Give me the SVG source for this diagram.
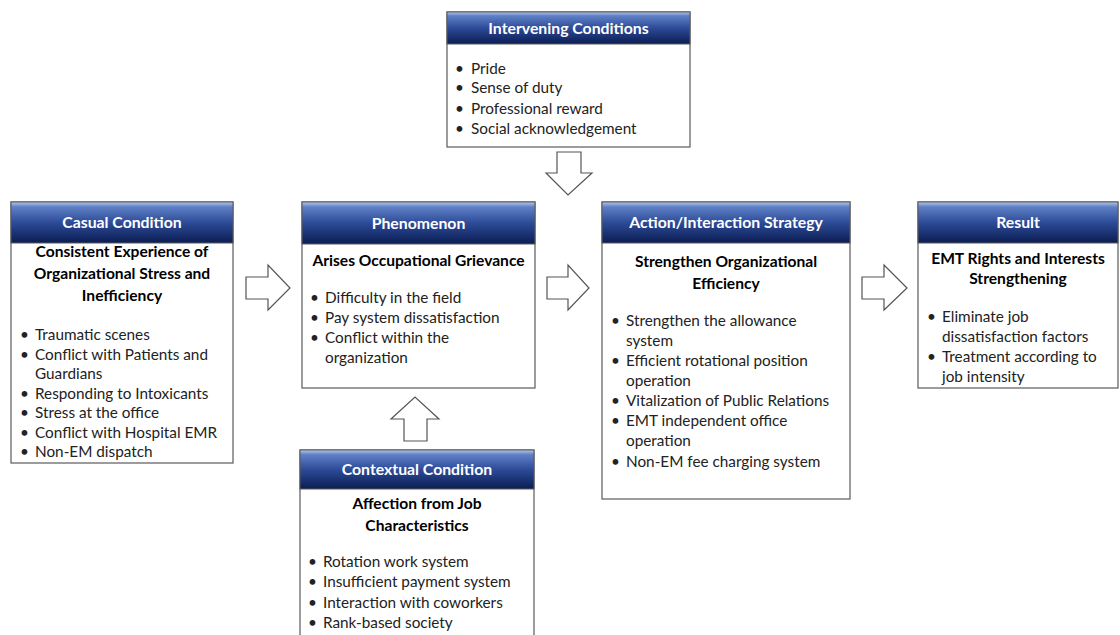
<svg xmlns="http://www.w3.org/2000/svg" width="1120" height="635" viewBox="0 0 1120 635">
<defs>
<linearGradient id="hdr" x1="0" y1="0" x2="0" y2="1">
<stop offset="0" stop-color="#b4c8ec"/>
<stop offset="0.12" stop-color="#5f80c6"/>
<stop offset="0.5" stop-color="#2d4b98"/>
<stop offset="1" stop-color="#0b1d52"/>
</linearGradient>
<style>
.box{fill:#ffffff;stroke:#5a5a5a;stroke-width:1.2}
.hdr{fill:url(#hdr);stroke:#5a5a5a;stroke-width:1}
.ht{font-family:Lato,"Liberation Sans",sans-serif;font-weight:bold;font-size:15.8px;fill:#ffffff;text-anchor:middle}
.tt{font-family:Lato,"Liberation Sans",sans-serif;font-weight:bold;font-size:15.6px;fill:#000000;text-anchor:middle}
.bt{font-family:Lato,"Liberation Sans",sans-serif;font-size:15.3px;fill:#222222}
.arr{fill:#ffffff;stroke:#555555;stroke-width:1.2;stroke-linejoin:miter}
</style>
</defs>
<rect width="1120" height="635" fill="#ffffff"/>

<g id="intervening">
<rect class="box" x="447" y="12" width="243" height="135"/>
<rect class="hdr" x="447" y="12" width="243" height="32"/>
<text class="ht" x="568.5" y="33.5">Intervening Conditions</text>
<text class="bt" x="455" y="74">•<tspan x="471">Pride</tspan></text>
<text class="bt" x="455" y="93">•<tspan x="471">Sense of duty</tspan></text>
<text class="bt" x="455" y="114">•<tspan x="471">Professional reward</tspan></text>
<text class="bt" x="455" y="134">•<tspan x="471">Social acknowledgement</tspan></text>
</g>

<g id="casual">
<rect class="box" x="11" y="202" width="222" height="261"/>
<rect class="hdr" x="11" y="202" width="222" height="41"/>
<text class="ht" x="122" y="228">Casual Condition</text>
<text class="tt" x="122" y="257">Consistent Experience of</text>
<text class="tt" x="122" y="279">Organizational Stress and</text>
<text class="tt" x="122" y="301">Inefficiency</text>
<text class="bt" x="20" y="340">•<tspan x="35">Traumatic scenes</tspan></text>
<text class="bt" x="20" y="360">•<tspan x="35">Conflict with Patients and</tspan></text>
<text class="bt" x="35" y="379">Guardians</text>
<text class="bt" x="20" y="399">•<tspan x="35">Responding to Intoxicants</tspan></text>
<text class="bt" x="20" y="418">•<tspan x="35">Stress at the office</tspan></text>
<text class="bt" x="20" y="438">•<tspan x="35">Conflict with Hospital EMR</tspan></text>
<text class="bt" x="20" y="457">•<tspan x="35">Non-EM dispatch</tspan></text>
</g>

<g id="phenomenon">
<rect class="box" x="302" y="202" width="233" height="186"/>
<rect class="hdr" x="302" y="202" width="233" height="42"/>
<text class="ht" x="418.5" y="228.5">Phenomenon</text>
<text class="tt" x="418.5" y="266">Arises Occupational Grievance</text>
<text class="bt" x="310" y="303">•<tspan x="325">Difficulty in the field</tspan></text>
<text class="bt" x="310" y="323">•<tspan x="325">Pay system dissatisfaction</tspan></text>
<text class="bt" x="310" y="343">•<tspan x="325">Conflict within the</tspan></text>
<text class="bt" x="325" y="363">organization</text>
</g>

<g id="contextual">
<rect class="box" x="300" y="450" width="234" height="195"/>
<rect class="hdr" x="300" y="450" width="234" height="39"/>
<text class="ht" x="417" y="474.5">Contextual Condition</text>
<text class="tt" x="417" y="509">Affection from Job</text>
<text class="tt" x="417" y="531">Characteristics</text>
<text class="bt" x="308" y="567">•<tspan x="323">Rotation work system</tspan></text>
<text class="bt" x="308" y="587">•<tspan x="323">Insufficient payment system</tspan></text>
<text class="bt" x="308" y="608">•<tspan x="323">Interaction with coworkers</tspan></text>
<text class="bt" x="308" y="628">•<tspan x="323">Rank-based society</tspan></text>
</g>

<g id="action">
<rect class="box" x="602" y="202" width="248" height="297"/>
<rect class="hdr" x="602" y="202" width="248" height="41"/>
<text class="ht" x="726" y="228">Action/Interaction Strategy</text>
<text class="tt" x="726" y="267">Strengthen Organizational</text>
<text class="tt" x="726" y="289">Efficiency</text>
<text class="bt" x="611" y="326">•<tspan x="626">Strengthen the allowance</tspan></text>
<text class="bt" x="626" y="346">system</text>
<text class="bt" x="611" y="366">•<tspan x="626">Efficient rotational position</tspan></text>
<text class="bt" x="626" y="386">operation</text>
<text class="bt" x="611" y="406">•<tspan x="626">Vitalization of Public Relations</tspan></text>
<text class="bt" x="611" y="426">•<tspan x="626">EMT independent office</tspan></text>
<text class="bt" x="626" y="446">operation</text>
<text class="bt" x="611" y="467">•<tspan x="626">Non-EM fee charging system</tspan></text>
</g>

<g id="result">
<rect class="box" x="918" y="202" width="200" height="186"/>
<rect class="hdr" x="918" y="202" width="200" height="41"/>
<text class="ht" x="1018" y="228">Result</text>
<text class="tt" x="1018" y="264">EMT Rights and Interests</text>
<text class="tt" x="1018" y="284">Strengthening</text>
<text class="bt" x="927" y="322">•<tspan x="942">Eliminate job</tspan></text>
<text class="bt" x="942" y="342">dissatisfaction factors</text>
<text class="bt" x="927" y="362">•<tspan x="942">Treatment according to</tspan></text>
<text class="bt" x="942" y="382">job intensity</text>
</g>

<g id="connectors">
<polygon class="arr" points="557,152 581,152 581,173 592,173 568,195 546,173 557,173"/>
<polygon class="arr" points="246,277 268,277 268,265 290,288 268,310 268,299 246,299"/>
<polygon class="arr" points="547,277 568,277 568,265 589,288 568,310 568,299 547,299"/>
<polygon class="arr" points="862,277 884,277 884,265 907,288 884,310 884,299 862,299"/>
<polygon class="arr" points="404,441 427,441 427,419 439,419 415,397 391,419 404,419"/>
</g>
</svg>
